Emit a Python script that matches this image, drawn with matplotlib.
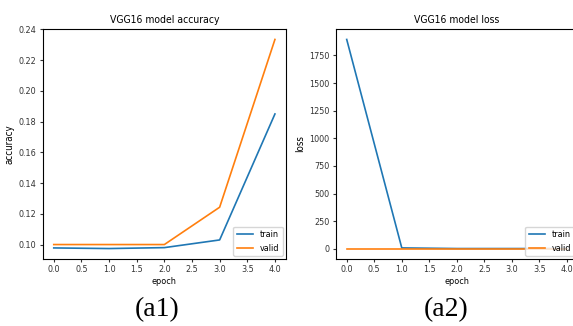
import matplotlib
matplotlib.use("Agg")
import matplotlib.pyplot as plt

epochs = [0, 1, 2, 3, 4]
acc_train = [0.0978, 0.0974, 0.0980, 0.1030, 0.1850]
acc_valid = [0.1000, 0.1000, 0.1000, 0.1243, 0.2335]
loss_train = [1895.0, 8.0, 2.3, 2.3, 2.3]
loss_valid = [2.3, 2.3, 2.3, 2.3, 2.3]
epoch_ticks = [0.0, 0.5, 1.0, 1.5, 2.0, 2.5, 3.0, 3.5, 4.0]
acc_ticks = [0.10, 0.12, 0.14, 0.16, 0.18, 0.20, 0.22, 0.24]
captions = ["(a1)", "(a2)"]

plt.rcParams['font.family'] = ['DejaVu Sans']
plt.rcParams['font.stretch'] = 'condensed'
plt.rcParams['xtick.major.size'] = 2.5
plt.rcParams['ytick.major.size'] = 2.5
plt.rcParams['xtick.major.pad'] = 2
plt.rcParams['ytick.major.pad'] = 2

W, H = 573, 326
fig = plt.figure(figsize=(W / 100, H / 100), dpi=100)

def px_axes(x0, x1, top, bottom):
    return fig.add_axes([x0 / W, 1 - bottom / H, (x1 - x0) / W, (bottom - top) / H])

ax1 = px_axes(42.7, 286, 29, 259)
ax2 = px_axes(335.7, 578, 29, 259)

def draw(ax, train, valid, title, ylabel):
    ax.plot(epochs, train, color='#1f77b4', lw=1.2, label='train')
    ax.plot(epochs, valid, color='#ff7f0e', lw=1.2, label='valid')
    ax.set_title(title, fontsize=7.5, pad=4)
    ax.set_xlabel('epoch', fontsize=6.5, labelpad=2)
    ax.set_ylabel(ylabel, fontsize=7, labelpad=3)
    ax.set_xticks(epoch_ticks)
    ax.set_xticklabels([f'{t:.1f}' for t in epoch_ticks])
    ax.tick_params(labelsize=6.5, colors='#333333')
    ax.legend(loc='lower right', fontsize=6.5, borderaxespad=0.3,
              handlelength=1.8)

draw(ax1, acc_train, acc_valid, 'VGG16 model accuracy', 'accuracy')
draw(ax2, loss_train, loss_valid, 'VGG16 model loss', 'loss')
ax1.set_yticks(acc_ticks)
ax1.set_yticklabels([f'{t:.2f}' for t in acc_ticks])

fig.text(156.7 / W, 1 - 310 / H, captions[0], ha='center', va='center',
         fontsize=20, family='Liberation Serif')
fig.text(446 / W, 1 - 310 / H, captions[1], ha='center', va='center',
         fontsize=20, family='Liberation Serif')

fig.savefig('out.png', dpi=100)
